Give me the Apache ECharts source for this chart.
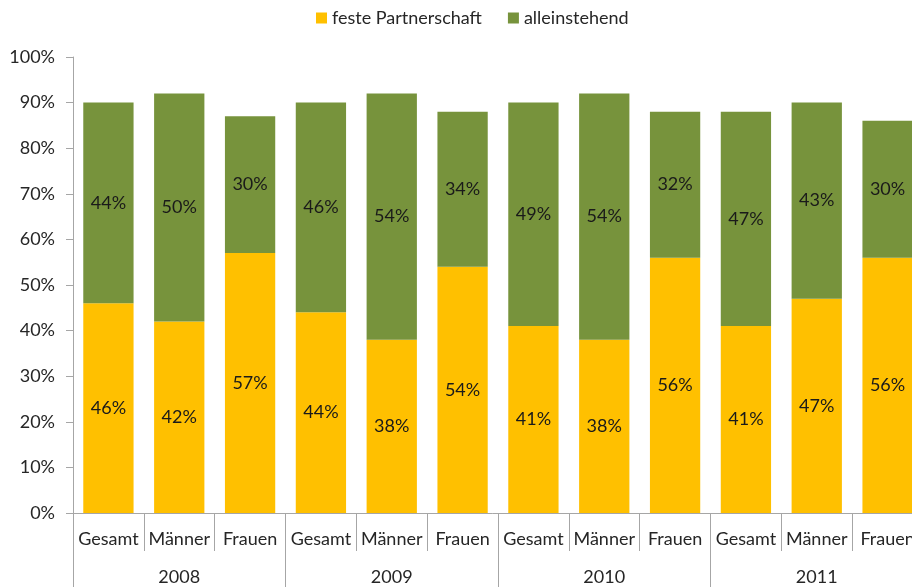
<!DOCTYPE html>
<html><head><meta charset="utf-8">
<script src="https://cdn.jsdelivr.net/npm/echarts@6/dist/echarts.min.js"></script>
<style>html,body{margin:0;padding:0;background:#fff}#c{width:912px;height:587px}</style>
</head><body><div id="c"></div>
<script>
const categories = ['Gesamt','Männer','Frauen','Gesamt','Männer','Frauen','Gesamt','Männer','Frauen','Gesamt','Männer','Frauen'];
const years = ['2008','2009','2010','2011'];
const festePartnerschaft = [46,42,57,44,38,54,41,38,56,41,47,56];
const alleinstehend = [44,50,30,46,54,34,49,54,32,47,43,30];
const yTicks = [0,10,20,30,40,50,60,70,80,90,100];

const FONT = 'Lato';
const FS = 18;
const chart = echarts.init(document.getElementById('c'));
const lbl = {show:true, position:'inside', color:'#1a1a1a', fontFamily:FONT, fontSize:FS, formatter: p => p.value + '%'};
chart.setOption({
  animation:false,
  textStyle:{fontFamily:FONT},
  legend:{top:4, left:311, itemWidth:11, itemHeight:11, itemGap:26, icon:'rect',
    textStyle:{fontFamily:FONT, fontSize:FS, color:'#262626'}},
  grid:{left:73, top:57, right:-11, bottom:74, containLabel:false, outerBoundsMode:'none'},
  xAxis:[
    {type:'category', data:categories, position:'bottom',
     axisLine:{lineStyle:{color:'#a6a6a6'}},
     axisTick:{show:true, length:38, lineStyle:{color:'#a6a6a6'}},
     axisLabel:{fontFamily:FONT, fontSize:FS, color:'#262626', margin:17, interval:0}},
    {type:'category', data:years, position:'bottom',
     axisLine:{show:false},
     axisTick:{show:true, length:80, lineStyle:{color:'#a6a6a6'}},
     axisLabel:{fontFamily:FONT, fontSize:FS, color:'#262626', margin:55, interval:0}}
  ],
  yAxis:{type:'value', min:0, max:100, interval:10,
    axisLine:{show:true, lineStyle:{color:'#a6a6a6'}},
    axisTick:{show:true, length:7, lineStyle:{color:'#a6a6a6'}},
    splitLine:{show:false},
    axisLabel:{fontFamily:FONT, fontSize:FS, color:'#262626', margin:18,
      formatter: v => yTicks.includes(v) ? v + '%' : ''}},
  series:[
    {name:'feste Partnerschaft', type:'bar', stack:'a', data:festePartnerschaft, barWidth:'71%',
     itemStyle:{color:'#FFC000'}, label:lbl},
    {name:'alleinstehend', type:'bar', stack:'a', data:alleinstehend, barWidth:'71%',
     itemStyle:{color:'#77933C'}, label:lbl}
  ]
});
</script></body></html>
